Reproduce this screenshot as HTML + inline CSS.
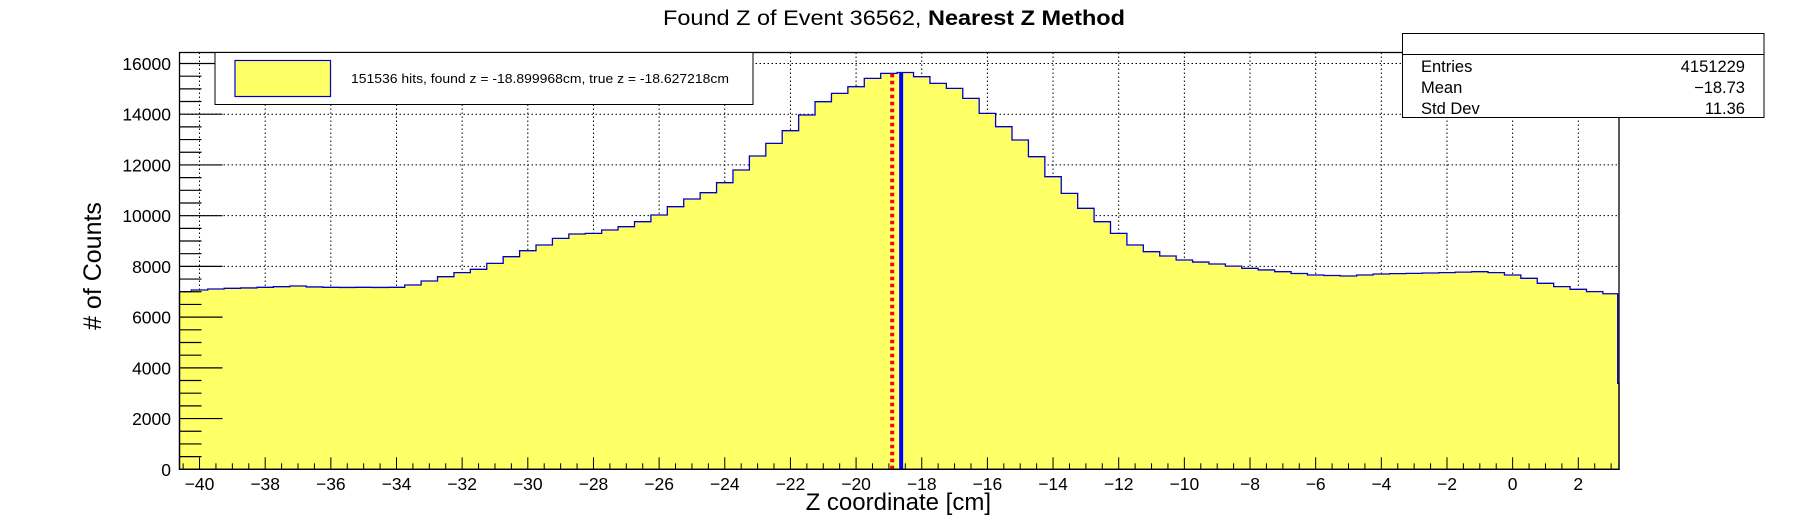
<!DOCTYPE html>
<html><head><meta charset="utf-8"><style>
html,body{margin:0;padding:0;background:#fff;}
svg{display:block;font-family:"Liberation Sans",Arial,sans-serif;}
</style></head><body>
<svg id="chart" width="1796" height="522" viewBox="0 0 1796 522" xmlns="http://www.w3.org/2000/svg">
<rect width="1796" height="522" fill="#fff"/>
<text x="663" y="25" font-size="21" textLength="462" lengthAdjust="spacingAndGlyphs">Found Z of Event 36562,  <tspan font-weight="bold">Nearest Z Method</tspan></text>
<g id="grid"></g>
<g id="hist"></g>
<g id="markers"></g>
<g id="axes"></g>
<text x="991" y="510" font-size="24" text-anchor="end">Z coordinate [cm]</text>
<text transform="translate(101,266) rotate(-90)" font-size="25" text-anchor="middle"># of Counts</text>
<g>
<rect x="215" y="52.5" width="538" height="52" fill="#fff" stroke="#000" stroke-width="1"/>
<rect x="235" y="60.5" width="95.5" height="36" fill="#ffff66" stroke="#0000cc" stroke-width="1.2"/>
<text x="351" y="83" font-size="12.5" textLength="378" lengthAdjust="spacingAndGlyphs">151536 hits, found z = -18.899968cm, true z = -18.627218cm</text>
</g>
<g>
<rect x="1402.5" y="33.5" width="361.5" height="84" fill="#fff" stroke="#000" stroke-width="1"/>
<line x1="1402.5" y1="54.5" x2="1764" y2="54.5" stroke="#000" stroke-width="1"/>
<text x="1421" y="72" font-size="16.5">Entries</text><text x="1745" y="72" font-size="16.5" text-anchor="end">4151229</text>
<text x="1421" y="93" font-size="16.5">Mean</text><text x="1745" y="93" font-size="16.5" text-anchor="end">−18.73</text>
<text x="1421" y="114" font-size="16.5">Std Dev</text><text x="1745" y="114" font-size="16.5" text-anchor="end">11.36</text>
</g>
</svg>
<script>
const binCenters = [-40.5,-40,-39.5,-39,-38.5,-38,-37.5,-37,-36.5,-36,-35.5,-35,-34.5,-34,-33.5,-33,-32.5,-32,-31.5,-31,-30.5,-30,-29.5,-29,-28.5,-28,-27.5,-27,-26.5,-26,-25.5,-25,-24.5,-24,-23.5,-23,-22.5,-22,-21.5,-21,-20.5,-20,-19.5,-19,-18.5,-18,-17.5,-17,-16.5,-16,-15.5,-15,-14.5,-14,-13.5,-13,-12.5,-12,-11.5,-11,-10.5,-10,-9.5,-9,-8.5,-8,-7.5,-7,-6.5,-6,-5.5,-5,-4.5,-4,-3.5,-3,-2.5,-2,-1.5,-1,-0.5,0,0.5,1,1.5,2,2.5,3];
const counts = [7004,7070,7110,7135,7150,7175,7200,7227,7190,7175,7170,7175,7170,7175,7266,7424,7595,7753,7884,8120,8383,8620,8843,9106,9277,9303,9434,9566,9763,10026,10354,10657,10906,11300,11800,12352,12851,13350,13968,14493,14822,15085,15414,15610,15645,15480,15217,15019,14625,14034,13508,12983,12325,11537,10880,10289,9763,9303,8843,8580,8410,8252,8170,8094,8010,7924,7860,7792,7720,7661,7640,7621,7660,7700,7715,7726,7740,7753,7775,7792,7753,7661,7529,7332,7201,7096,7004,6920];
const lastBinValue = 3390;
const xTickLabels = [-40,-38,-36,-34,-32,-30,-28,-26,-24,-22,-20,-18,-16,-14,-12,-10,-8,-6,-4,-2,0,2];
const yTickLabels = [0,2000,4000,6000,8000,10000,12000,14000,16000];
const foundZ = [-18.899968];
const trueZ = [-18.627218];

const X0=179.5, X1=1619, Y0=469.3, Y1=52.5;
const xmin=-40.61, xmax=3.24, ymax=16433;
const sx = v => X0 + (v - xmin) / (xmax - xmin) * (X1 - X0);
const sy = v => Y0 - v / ymax * (Y0 - Y1);
const NS="http://www.w3.org/2000/svg";
function mk(tag, attrs, parent){const e=document.createElementNS(NS,tag);for(const k in attrs)e.setAttribute(k,attrs[k]);parent.appendChild(e);return e;}
const grid=document.getElementById('grid'), hist=document.getElementById('hist'), axes=document.getElementById('axes'), markers=document.getElementById('markers');

xTickLabels.forEach(v=>{const l=mk('line',{x1:sx(v),x2:sx(v),y1:Y1,y2:Y0,stroke:'#000','stroke-width':1,'stroke-dasharray':'1.5,2.5'},grid);

});
yTickLabels.forEach(v=>{if(v===0)return;const l=mk('line',{x1:X0,x2:X1,y1:sy(v),y2:sy(v),stroke:'#000','stroke-width':1,'stroke-dasharray':'1.5,2.5'},grid);

});

let d='', first=true;
binCenters.forEach((c,i)=>{
  const lo=Math.max(xmin,c-0.25), hi=Math.min(xmax-0.04,c+0.25);
  const y=sy(counts[i]);
  if(first){d+=`M${sx(lo)},${Y0} L${sx(lo)},${y}`;first=false;}
  else d+=` L${sx(lo)},${y}`;
  d+=` L${sx(hi)},${y}`;
});
const ly=sy(lastBinValue);
d+=` L${sx(xmax-0.04)},${ly} L${sx(xmax)},${ly} L${sx(xmax)},${Y0} Z`;
const fill=mk('path',{d:d,fill:'#ffff66',stroke:'none'},hist);


const outline=mk('path',{d:d,fill:'none',stroke:'#0000cc','stroke-width':1.3},hist);



const peak = Math.max(...counts);
const rl=mk('line',{x1:sx(foundZ[0]),x2:sx(foundZ[0]),y1:Y0,y2:sy(peak),stroke:'#ff0000','stroke-width':4,'stroke-dasharray':'3.5,3.5'},markers);


const bl=mk('line',{x1:sx(trueZ[0]),x2:sx(trueZ[0]),y1:Y0,y2:sy(peak),stroke:'#0000ff','stroke-width':4},markers);



const fr=mk('rect',{x:X0,y:Y1,width:X1-X0,height:Y0-Y1,fill:'none',stroke:'#000','stroke-width':1.3},axes);


for(let v=-40.5; v<=3.2; v+=0.5){
  const major = Math.abs(v/2-Math.round(v/2))<1e-6;
  mk('line',{x1:sx(v),x2:sx(v),y1:Y0,y2:Y0-(major?12:6),stroke:'#000','stroke-width':1},axes);
}
xTickLabels.forEach(v=>{const t=mk('text',{x:sx(v),y:490,'font-size':17.5,'text-anchor':'middle'},axes);t.textContent=(v<0?'\u2212':'')+Math.abs(v);

});
for(let v=0; v<=16000; v+=500){
  const major = v%2000===0;
  mk('line',{x1:X0,x2:X0+(major?43:22),y1:sy(v),y2:sy(v),stroke:'#000','stroke-width':1.2},axes);
}
yTickLabels.forEach(v=>{const t=mk('text',{x:171,y:sy(v)+6.5,'font-size':17.5,'text-anchor':'end'},axes);t.textContent=v;

});
</script>
</body></html>
